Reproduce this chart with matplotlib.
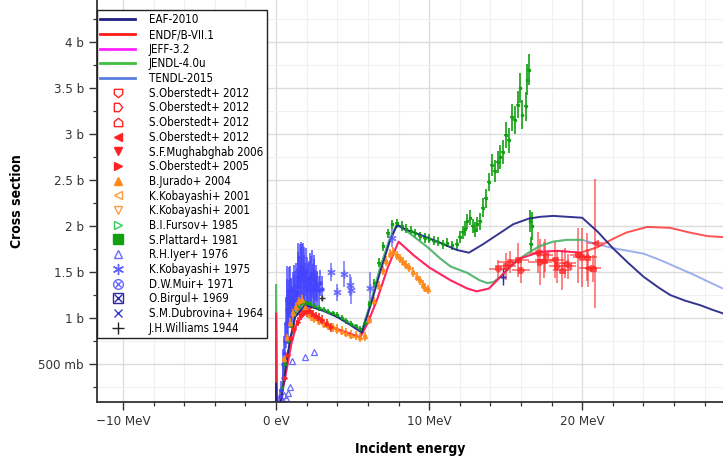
import matplotlib
matplotlib.use("Agg")
import matplotlib.pyplot as plt
from matplotlib.lines import Line2D
from matplotlib.legend_handler import HandlerTuple
import numpy as np

plt.rcParams['font.family'] = ['DejaVu Sans']
plt.rcParams['font.stretch'] = 'condensed'

# ---------------- evaluated curves (E in MeV, sigma in b) ----------------
eaf_E = [0.0, 0.0, 0.05, 0.2, 0.35, 0.6, 0.9, 1.24, 1.9, 2.5, 3.2, 4.0, 4.8, 5.6, 6.2, 6.8, 7.4, 7.9, 8.5, 9.5,
         10.7, 11.8, 12.6, 13.5, 14.5, 15.5, 16.5, 17.25, 18.1, 20.0, 21.0, 22.0, 23.0, 24.0, 25.0, 25.75,
         26.7, 27.7, 28.5, 29.2, 30.0]
eaf_s = [0.0, 0.29, 0.02, 0.05, 0.12, 0.43, 0.75, 1.01, 1.14, 1.11, 1.07, 1.01, 0.93, 0.84, 1.15, 1.50, 1.82, 2.01,
         1.96, 1.90, 1.82, 1.74, 1.71, 1.80, 1.91, 2.02, 2.08, 2.10, 2.11, 2.09, 1.94, 1.76, 1.60, 1.45, 1.33,
         1.25, 1.19, 1.14, 1.09, 1.05, 1.01]

endf_E = [0.0, 0.0, 0.05, 0.2, 0.4, 0.6, 1.0, 1.37, 1.9, 2.5, 3.0, 3.66, 4.5, 5.5, 6.0, 6.6, 7.3, 8.0, 9.0, 10.0,
          11.4, 12.5, 13.1, 13.9, 14.5, 15.3, 16.0, 17.25, 18.4, 19.9, 21.0, 22.0, 22.9, 24.25, 25.75, 27.0,
          28.2, 29.2, 30.0]
endf_s = [0.0, 1.05, 0.02, 0.05, 0.2, 0.36, 0.72, 0.95, 1.05, 1.01, 0.96, 0.90, 0.85, 0.79, 0.95, 1.20, 1.55, 1.83,
          1.68, 1.55, 1.41, 1.32, 1.29, 1.32, 1.42, 1.56, 1.65, 1.72, 1.73, 1.71, 1.77, 1.86, 1.93, 1.99, 1.98,
          1.93, 1.89, 1.88, 1.88]

jeff_E = [0.0, 0.0, 0.05, 0.2, 0.4, 0.6, 1.0, 1.37, 1.9, 2.5, 3.0, 3.66, 4.5, 5.5, 6.0, 6.6, 7.3, 8.0, 9.0, 10.0,
          11.4, 12.5, 13.1, 13.9, 14.5, 15.3, 16.0, 17.25, 18.4, 19.9]
jeff_s = [0.0, 1.05, 0.02, 0.05, 0.2, 0.36, 0.72, 0.95, 1.05, 1.01, 0.96, 0.90, 0.85, 0.79, 0.95, 1.20, 1.55, 1.83,
          1.68, 1.55, 1.41, 1.32, 1.29, 1.32, 1.42, 1.56, 1.65, 1.72, 1.73, 1.71]

jendl_E = [0.0, 0.0, 0.05, 0.2, 0.6, 1.24, 1.9, 3.0, 4.0, 5.0, 5.6, 6.2, 6.8, 7.4, 7.9, 8.5, 9.2, 9.9, 10.7, 11.4,
           12.5, 13.3, 13.8, 14.2, 14.6, 15.1, 15.7, 16.4, 17.2, 18.1, 19.0, 20.0]
jendl_s = [0.0, 1.36, 0.02, 0.05, 0.45, 1.03, 1.16, 1.10, 1.02, 0.93, 0.86, 1.18, 1.55, 1.85, 2.02, 1.95, 1.86, 1.77,
           1.65, 1.56, 1.49, 1.41, 1.38, 1.39, 1.44, 1.52, 1.62, 1.70, 1.78, 1.83, 1.85, 1.85]

tendl_E = [0.0, 0.0, 0.05, 0.2, 0.6, 1.24, 1.9, 3.0, 4.0, 5.0, 5.6, 6.2, 6.8, 7.4, 7.9, 8.5, 9.2, 9.9, 10.7, 11.4,
           12.5, 13.3, 13.8, 14.2, 14.6, 15.1, 15.7, 16.4, 17.2, 18.1, 19.0, 20.0, 21.0, 22.0, 23.0, 24.0, 25.1,
           26.2, 27.3, 28.3, 29.2, 30.0]
tendl_s = [0.0, 1.36, 0.02, 0.05, 0.45, 1.03, 1.16, 1.10, 1.02, 0.93, 0.86, 1.18, 1.55, 1.85, 2.02, 1.95, 1.86, 1.77,
           1.65, 1.56, 1.49, 1.41, 1.38, 1.39, 1.44, 1.52, 1.62, 1.70, 1.78, 1.83, 1.85, 1.85, 1.80, 1.76, 1.73,
           1.70, 1.63, 1.55, 1.47, 1.39, 1.32, 1.27]

# ---------------- experimental data ----------------
# S.Oberstedt+ 2012 (four sets, 14-21 MeV)
ob12a_E = [14.5, 15.8, 17.1, 18.2, 19.7]
ob12a_s = [1.53, 1.63, 1.71, 1.63, 1.68]
ob12a_dE = [0.6, 0.7, 0.6, 0.6, 0.5]
ob12a_ds = [0.10, 0.18, 0.22, 0.20, 0.30]
ob12b_E = [15.0, 16.0, 17.25, 18.35, 20.0]
ob12b_s = [1.56, 1.52, 1.61, 1.56, 1.66]
ob12b_dE = [0.7, 0.6, 0.8, 0.5, 0.6]
ob12b_ds = [0.15, 0.14, 0.25, 0.18, 0.32]
ob12c_E = [15.3, 17.5, 18.7, 20.3, 20.7]
ob12c_s = [1.61, 1.63, 1.52, 1.66, 1.54]
ob12c_dE = [0.8, 0.6, 0.6, 0.7, 0.5]
ob12c_ds = [0.12, 0.20, 0.22, 0.26, 0.15]
ob12d_E = [17.6, 18.9, 19.1, 20.4, 20.85]
ob12d_s = [1.68, 1.60, 1.56, 1.54, 1.81]
ob12d_dE = [0.5, 0.7, 0.5, 0.6, 0.5]
ob12d_ds = [0.18, 0.16, 0.14, 0.20, 0.70]

# S.Oberstedt+ 2005 (low energy)
ob05_E = [0.6, 0.8, 1.0, 1.2, 1.4, 1.6, 1.8, 2.0, 2.2, 2.4, 2.6, 2.8, 3.0, 3.3, 3.6]
ob05_s = [0.35, 0.60, 0.78, 0.88, 0.96, 1.03, 1.07, 1.06, 1.08, 1.04, 1.02, 1.00, 0.98, 0.94, 0.90]

# B.Jurado+ 2004
jur_E = [0.5, 0.7, 0.9, 1.1, 1.3, 1.5, 1.7, 1.9, 2.1, 2.3, 2.5, 2.8, 3.1, 3.4, 3.7, 4.0, 4.3, 4.6, 4.9, 5.2,
         5.5, 5.8, 6.1, 6.4, 6.7, 7.0, 7.2, 7.45, 7.65, 7.9, 8.1, 8.3, 8.5, 8.7, 8.95, 9.2, 9.4, 9.6, 9.75, 9.9]
jur_s = [0.55, 0.78, 0.95, 1.05, 1.12, 1.18, 1.20, 1.12, 1.05, 1.02, 1.00, 0.97, 0.94, 0.92, 0.90, 0.88, 0.86,
         0.84, 0.82, 0.81, 0.79, 0.80, 0.98, 1.18, 1.35, 1.52, 1.62, 1.70, 1.72, 1.68, 1.65, 1.61, 1.58, 1.55,
         1.50, 1.45, 1.41, 1.36, 1.33, 1.31]

# S.Plattard+ 1981
pla_E = [0.4, 0.6, 0.8, 1.0, 1.2, 1.4, 1.6, 1.8, 2.0, 2.2, 2.5, 2.8, 3.1, 3.4, 3.7, 4.0, 4.3, 4.6, 4.9, 5.2, 5.5,
         5.8, 6.1, 6.4, 6.7, 7.0, 7.3, 7.6, 7.9, 8.2, 8.5, 8.8, 9.1, 9.4, 9.7, 10.0, 10.3, 10.6, 10.9, 11.2, 11.5,
         11.8, 12.0, 12.2, 12.35, 12.5, 12.7, 12.85, 13.0, 13.15, 13.3, 13.5, 13.7, 13.9, 14.1, 14.3, 14.5, 14.65,
         14.8, 15.0, 15.2, 15.4, 15.6, 15.8, 15.95, 16.1, 16.3, 16.4, 16.5, 16.6, 16.65, 16.75]
pla_s = [0.25, 0.50, 0.75, 0.92, 1.05, 1.12, 1.16, 1.17, 1.16, 1.15, 1.13, 1.11, 1.09, 1.07, 1.05, 1.03, 1.00,
         0.97, 0.94, 0.91, 0.88, 0.95, 1.15, 1.38, 1.60, 1.78, 1.92, 2.02, 2.03, 2.00, 1.97, 1.95, 1.92, 1.89,
         1.87, 1.86, 1.84, 1.83, 1.80, 1.82, 1.79, 1.80, 1.88, 1.93, 1.97, 2.05, 2.09, 2.00, 1.96, 2.02, 2.05,
         2.20, 2.30, 2.48, 2.66, 2.60, 2.70, 2.75, 2.80, 2.99, 2.93, 3.18, 3.15, 3.32, 3.50, 3.21, 3.30, 3.59,
         3.70, 2.05, 1.80, 2.00]
pla_ds = [0.03, 0.03, 0.03, 0.03, 0.03, 0.03, 0.03, 0.03, 0.03, 0.03, 0.03, 0.03, 0.03, 0.03, 0.03, 0.03, 0.03,
          0.03, 0.03, 0.03, 0.03, 0.04, 0.04, 0.04, 0.05, 0.05, 0.05, 0.05, 0.05, 0.05, 0.05, 0.05, 0.05, 0.05,
          0.05, 0.05, 0.05, 0.05, 0.05, 0.05, 0.05, 0.06, 0.07, 0.07, 0.08, 0.08, 0.08, 0.08, 0.08, 0.08, 0.09,
          0.10, 0.10, 0.10, 0.12, 0.12, 0.12, 0.13, 0.13, 0.14, 0.14, 0.15, 0.15, 0.15, 0.16, 0.16, 0.16, 0.17,
          0.17, 0.12, 0.08, 0.15]

# R.H.Iyer+ 1976
iyer_E = [0.45, 0.55, 0.65, 0.8, 0.9, 1.05, 1.9, 2.5]
iyer_s = [0.10, 0.16, 0.13, 0.18, 0.25, 0.53, 0.58, 0.63]

# K.Kobayashi+ 1975
kob75_E = [3.6, 4.0, 4.45, 4.85, 4.9, 6.15, 7.6]
kob75_s = [1.50, 1.28, 1.48, 1.36, 1.30, 1.33, 1.87]
kob75_ds = [0.10, 0.09, 0.14, 0.12, 0.15, 0.17, 0.10]

# D.W.Muir+ 1971
muir_E = [0.20, 0.28, 0.35, 0.42, 0.48, 0.55, 0.60, 0.66, 0.70, 0.74, 0.78, 0.82, 0.86, 0.90, 0.95, 1.00, 1.05,
          1.10, 1.15, 1.20, 1.25, 1.30, 1.35, 1.40, 1.45, 1.50, 1.55, 1.60, 1.65, 1.70, 1.75, 1.80, 1.85, 1.90,
          1.95, 2.00, 2.05, 2.10, 2.15, 2.20, 2.25, 2.30, 2.35, 2.40, 2.45, 2.50, 2.55, 2.60, 2.65, 2.70, 2.80,
          2.90, 3.00]
muir_s = [0.08, 0.15, 0.22, 0.35, 0.50, 0.62, 0.75, 0.95, 1.10, 1.20, 1.05, 1.25, 1.15, 1.30, 1.20, 1.22, 1.15,
          1.28, 1.20, 1.30, 1.25, 1.35, 1.28, 1.40, 1.45, 1.35, 1.50, 1.42, 1.55, 1.48, 1.52, 1.40, 1.45, 1.35,
          1.50, 1.30, 1.42, 1.35, 1.38, 1.45, 1.30, 1.42, 1.48, 1.35, 1.45, 1.40, 1.32, 1.38, 1.30, 1.35, 1.30,
          1.38, 1.32]
muir_ds = [0.06, 0.08, 0.10, 0.14, 0.16, 0.18, 0.20, 0.28, 0.32, 0.36, 0.26, 0.30, 0.26, 0.26, 0.24, 0.22, 0.20,
           0.22, 0.26, 0.28, 0.26, 0.25, 0.26, 0.32, 0.36, 0.32, 0.30, 0.35, 0.28, 0.32, 0.30, 0.28, 0.32, 0.25,
           0.26, 0.24, 0.24, 0.25, 0.24, 0.26, 0.20, 0.25, 0.26, 0.24, 0.24, 0.24, 0.20, 0.20, 0.20, 0.16, 0.16,
           0.14, 0.14]

# O.Birgul+ 1969
bir_E = [14.8]
bir_s = [1.45]
bir_ds = [0.09]

# J.H.Williams 1944
wil_E = [3.0]
wil_s = [1.22]

# ---------------- axes text ----------------
xticks = [-10, 0, 10, 20]
xticklabels = ['\u221210 MeV', '0 eV', '10 MeV', '20 MeV']
yticks = [0.5, 1.0, 1.5, 2.0, 2.5, 3.0, 3.5, 4.0]
yticklabels = ['500 mb', '1 b', '1.5 b', '2 b', '2.5 b', '3 b', '3.5 b', '4 b']

# ---------------- figure ----------------
fig = plt.figure(figsize=(7.23, 4.58), dpi=100)
ax = fig.add_axes([97 / 723, 1 - 402 / 458, 1 - 97 / 723, 402 / 458])
ax.set_xlim(-11.7, 29.2)
ax.set_ylim(0.087, 4.457)

C_EAF = '#1f1f85'
C_ENDF = '#ff1a1a'
C_JEFF = '#ff22ff'
C_JENDL = '#40c040'
C_TENDL = '#5a7ee0'
C_RED = '#ff2222'
C_ORANGE = '#ff8a1a'
C_GREEN = '#10a010'
C_BLUE = '#4444ff'

# experimental data first
ebk = dict(capsize=0, linestyle='none')
ax.errorbar(muir_E, muir_s, yerr=muir_ds, xerr=0.03, marker='o', ms=2.2, color=C_BLUE, elinewidth=1.2,
            alpha=0.85, **ebk)
ax.errorbar(pla_E, pla_s, yerr=pla_ds, xerr=0.1, marker='s', ms=2, color=C_GREEN, elinewidth=1.4,
            alpha=0.85, **ebk)
ax.errorbar(jur_E, jur_s, yerr=0.05, xerr=0.14, marker='^', ms=3, color=C_ORANGE, elinewidth=1.4,
            alpha=0.85, **ebk)
ax.errorbar(ob05_E, ob05_s, yerr=0.05, xerr=0.12, marker='>', ms=3, color=C_RED, elinewidth=1.4,
            alpha=0.85, **ebk)
ax.plot(iyer_E, iyer_s, linestyle='none', marker='^', ms=4.5, mfc='none', mec='#6a6aff', mew=0.9)
ax.errorbar(kob75_E, kob75_s, yerr=kob75_ds, xerr=0.12, marker=(6, 2, 0), ms=6, color='#6060ff',
            elinewidth=1.2, alpha=0.8, **ebk)
ax.errorbar(wil_E, wil_s, marker='+', ms=5, color='#333333', linestyle='none')
ax.errorbar(bir_E, bir_s, yerr=bir_ds, xerr=0.15, marker='+', ms=5, color='#2a2aaa', elinewidth=1.0, **ebk)

shield_down = [(-1, 1), (1, 1), (1, -0.2), (0, -1), (-1, -0.2), (-1, 1)]
house_right = [(-1, -1), (0.2, -1), (1, 0), (0.2, 1), (-1, 1), (-1, -1)]
house_up = [(-1, -1), (1, -1), (1, 0.2), (0, 1), (-1, 0.2), (-1, -1)]
for (E, s, dE, ds, mk) in [(ob12a_E, ob12a_s, ob12a_dE, ob12a_ds, shield_down),
                           (ob12b_E, ob12b_s, ob12b_dE, ob12b_ds, house_right),
                           (ob12c_E, ob12c_s, ob12c_dE, ob12c_ds, house_up),
                           (ob12d_E, ob12d_s, ob12d_dE, ob12d_ds, '<')]:
    ax.errorbar(E, s, yerr=ds, xerr=dE, marker=mk, ms=4, color=C_RED, elinewidth=1.2, alpha=0.65, **ebk)

# evaluated curves
lw = 1.4
ax.plot(tendl_E, tendl_s, color=C_TENDL, lw=lw, alpha=0.6)
ax.plot(jendl_E, jendl_s, color=C_JENDL, lw=lw, alpha=0.75)
ax.plot(jeff_E, jeff_s, color=C_JEFF, lw=lw, alpha=0.75)
ax.plot(endf_E, endf_s, color=C_ENDF, lw=lw, alpha=0.75)
ax.plot(eaf_E, eaf_s, color=C_EAF, lw=lw, alpha=0.9)

# axes styling
ax.set_xticks(xticks)
ax.set_xticklabels(xticklabels)
ax.set_yticks(yticks)
ax.set_yticklabels(yticklabels)
ax.set_xticks(np.arange(-10, 30, 2), minor=True)
ax.set_yticks(np.arange(0.25, 4.5, 0.5), minor=True)
ax.grid(True, which='major', color='#dcdcdc', lw=1.0)
ax.grid(True, which='minor', color='#f0f0f0', lw=0.8)
ax.set_axisbelow(True)
for sp in ['top', 'right']:
    ax.spines[sp].set_visible(False)
for sp in ['left', 'bottom']:
    ax.spines[sp].set_color('#333333')
    ax.spines[sp].set_linewidth(1.3)
ax.tick_params(which='major', length=6, width=1.0, color='#333333', labelsize=9.5, labelcolor='#333333')
ax.tick_params(which='minor', length=3, width=0.9, color='#333333')
ax.set_xlabel('Incident energy', fontsize=10, fontweight='bold', labelpad=10)
ax.set_ylabel('Cross section', fontsize=10, fontweight='bold', labelpad=10)

# legend
def mk(marker, color, filled=True, ms=6):
    return Line2D([], [], linestyle='none', marker=marker, ms=ms, color=color,
                  mfc=color if filled else 'none', mec=color, mew=1.0)

handles = [
    Line2D([], [], color=C_EAF, lw=2),
    Line2D([], [], color=C_ENDF, lw=2),
    Line2D([], [], color=C_JEFF, lw=2),
    Line2D([], [], color=C_JENDL, lw=2),
    Line2D([], [], color=C_TENDL, lw=2),
    mk(shield_down, C_RED, False),
    mk(house_right, C_RED, False),
    mk(house_up, C_RED, False),
    mk('<', C_RED),
    mk('v', C_RED),
    mk('>', C_RED),
    mk('^', C_ORANGE),
    mk('<', '#ff9a40', False),
    mk('v', '#ff9a40', False),
    mk('>', '#33cc55', False),
    mk('s', C_GREEN, ms=7),
    mk('^', '#6a6aff', False),
    mk((6, 2, 0), '#6060ff', ms=8),
    (mk('o', '#6a6aff', False, ms=7), mk('x', '#6a6aff', ms=5)),
    (mk('s', '#2a2aaa', False, ms=7), mk('x', '#2a2aaa', ms=6)),
    mk('x', '#3a3acc', ms=6),
    mk('+', '#222222', ms=8),
]
labels = ['EAF-2010', 'ENDF/B-VII.1', 'JEFF-3.2', 'JENDL-4.0u', 'TENDL-2015',
          'S.Oberstedt+ 2012', 'S.Oberstedt+ 2012', 'S.Oberstedt+ 2012', 'S.Oberstedt+ 2012',
          'S.F.Mughabghab 2006', 'S.Oberstedt+ 2005', 'B.Jurado+ 2004', 'K.Kobayashi+ 2001',
          'K.Kobayashi+ 2001', 'B.I.Fursov+ 1985', 'S.Plattard+ 1981', 'R.H.Iyer+ 1976',
          'K.Kobayashi+ 1975', 'D.W.Muir+ 1971', 'O.Birgul+ 1969', 'S.M.Dubrovina+ 1964', 'J.H.Williams 1944']
leg = ax.legend(handles, labels, loc='upper left', bbox_to_anchor=(0.0, 1 - 10 / 402),
                borderaxespad=0, fontsize=8.3, labelspacing=0.145, handlelength=3.0, handletextpad=1.2,
                borderpad=0.3, fancybox=False, framealpha=1, edgecolor='#222222',
                handler_map={tuple: HandlerTuple(ndivide=1, pad=0)})
leg.get_frame().set_linewidth(1.0)

fig.savefig('out.png', dpi=100)
